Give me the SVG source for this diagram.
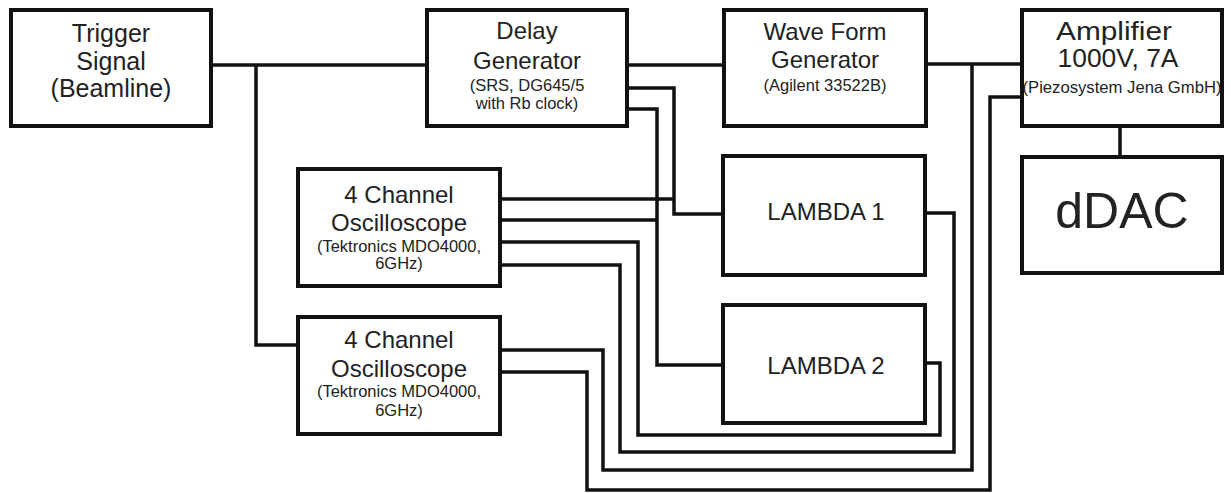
<svg xmlns="http://www.w3.org/2000/svg" width="1231" height="493" viewBox="0 0 1231 493">
<style>
.box{fill:#fff;stroke:#111;stroke-width:4}
.w{fill:none;stroke:#111;stroke-width:3.5;stroke-linejoin:miter}
text{font-family:"Liberation Sans",Arial,sans-serif;fill:#222;text-anchor:middle}
.big{font-size:24px}
.sm{font-size:16.5px}
</style>
<rect width="1231" height="493" fill="#fff"/>
<g id="connectors">
<path class="w" d="M211,65 H427"/>
<path class="w" d="M256,65 V345 H298"/>
<path class="w" d="M627,65 H724"/>
<path class="w" d="M926,64 H1022"/>
<path class="w" d="M1120,126 V157"/>
<path class="w" d="M627,88 H674 V214 H723"/>
<path class="w" d="M627,109 H657 V365 H723"/>
<path class="w" d="M500,199 H674"/>
<path class="w" d="M500,220 H657"/>
<path class="w" d="M500,242 H638 V435 H940 V363 H925"/>
<path class="w" d="M500,265 H620 V452 H954 V213 H925"/>
<path class="w" d="M500,350 H603 V470 H972 V64"/>
<path class="w" d="M500,372 H587 V490 H990 V97 H1022"/>
</g>
<g id="trigger">
<rect class="box" x="11" y="10" width="200" height="116"/>
<text x="111" y="42" style="font-size:25px">Trigger</text>
<text x="111" y="70" style="font-size:25px">Signal</text>
<text x="111" y="97" style="font-size:25px">(Beamline)</text>
</g>
<g id="delay">
<rect class="box" x="427" y="10" width="200" height="116"/>
<text class="big" x="527" y="39">Delay</text>
<text class="big" x="527" y="69">Generator</text>
<text class="sm" x="527" y="91">(SRS, DG645/5</text>
<text class="sm" x="527" y="109">with Rb clock)</text>
</g>
<g id="wfg">
<rect class="box" x="724" y="10" width="202" height="116"/>
<text class="big" x="825" y="40">Wave Form</text>
<text class="big" x="825" y="68">Generator</text>
<text x="825" y="91" style="font-size:16.5px">(Agilent 33522B)</text>
</g>
<g id="amplifier">
<rect class="box" x="1022" y="10" width="200" height="116"/>
<text x="1114" y="40" style="font-size:25px" textLength="116" lengthAdjust="spacingAndGlyphs">Amplifier</text>
<text x="1118" y="67" style="font-size:25px" textLength="121" lengthAdjust="spacingAndGlyphs">1000V, 7A</text>
<text x="1122" y="93" style="font-size:16.5px" textLength="199" lengthAdjust="spacingAndGlyphs">(Piezosystem Jena GmbH)</text>
</g>
<g id="ddac">
<rect class="box" x="1022" y="157" width="200" height="116"/>
<text x="1122" y="228" style="font-size:50px">dDAC</text>
</g>
<g id="osc1">
<rect class="box" x="298" y="169" width="202" height="117"/>
<text class="big" x="399" y="203">4 Channel</text>
<text class="big" x="399" y="231">Oscilloscope</text>
<text class="sm" x="399" y="252">(Tektronics MDO4000,</text>
<text class="sm" x="399" y="269">6GHz)</text>
</g>
<g id="osc2">
<rect class="box" x="298" y="317" width="202" height="117"/>
<text class="big" x="399" y="348">4 Channel</text>
<text class="big" x="399" y="377">Oscilloscope</text>
<text class="sm" x="399" y="397">(Tektronics MDO4000,</text>
<text class="sm" x="399" y="416">6GHz)</text>
</g>
<g id="lambda1">
<rect class="box" x="723" y="156" width="202" height="119"/>
<text class="big" x="826" y="220">LAMBDA 1</text>
</g>
<g id="lambda2">
<rect class="box" x="723" y="305" width="202" height="118"/>
<text class="big" x="826" y="374">LAMBDA 2</text>
</g>
</svg>
